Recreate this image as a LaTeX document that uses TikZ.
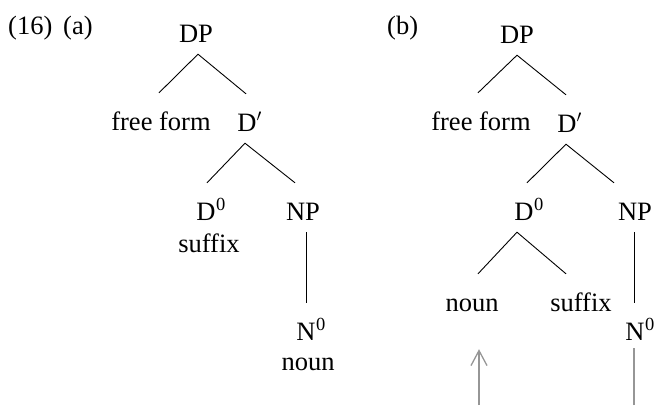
\documentclass[tikz,border=0pt]{standalone}
\usepackage{fontspec}
\setmainfont{Liberation Serif}
\usetikzlibrary{arrows.meta,calc}
\definecolor{movegray}{RGB}{150,150,150}
\newcommand{\zerosup}{\rlap{\kern0.5pt\raisebox{9.5pt}{\fontsize{18.5pt}{18.5pt}\selectfont 0}}}
\newcommand{\barprime}{\rlap{$'$}}
\tikzset{
  lbl/.style={inner sep=0pt, anchor=base west, font=\fontsize{26.5pt}{30pt}\selectfont},
  tn/.style={inner sep=0pt, anchor=base, text height=37pt, text depth=12pt, font=\fontsize{26.5pt}{30pt}\selectfont},
  txt/.style={inner sep=0pt, anchor=base, font=\fontsize{26.5pt}{30pt}\selectfont},
  br/.style={line width=0.9pt, black},
  mv/.style={line width=1.3pt, movegray},
}
\begin{document}
\begin{tikzpicture}[x=1pt,y=-1pt]
\useasboundingbox (0,0) rectangle (654,405);
% labels
\node[lbl] (l16) at (8,34) {(16)};
\node[lbl] (la) at (63,34) {(a)};
\node[lbl] (lb) at (387,34) {(b)};
% tree (a)
\node[tn] (dpA) at (196,42) {DP};
\node[tn] (ffA) at (161,130) {free form};
\node[tn] (dbA) at (247,131) {D\barprime};
\node[tn] (d0A) at (206,220) {D\zerosup};
\node[txt] (sufA) at (209,252) {suffix};
\node[tn] (npA) at (303,220) {NP};
\node[tn] (n0A) at (306,340) {N\zerosup};
\node[txt] (nounA) at (308,370) {noun};
\draw[br] ([xshift=-2pt]ffA.north) -- ([xshift=2pt]dpA.south) -- ([xshift=-1pt]dbA.north);
\draw[br] ([xshift=1pt]d0A.north) -- ([xshift=-2pt]dbA.south) -- ([xshift=-8pt]npA.north);
\draw[br] (n0A.north) -- (n0A.north |- npA.south);
% tree (b)
\node[tn] (dpB) at (517,43) {DP};
\node[tn] (ffB) at (481,130) {free form};
\node[tn] (dbB) at (567,132) {D\barprime};
\node[tn] (d0B) at (524,220) {D\zerosup};
\node[tn] (npB) at (635,220) {NP};
\node[tn] (nounB) at (472,311) {noun};
\node[tn] (sufB) at (581,311) {suffix};
\node[tn] (n0B) at (635,340) {N\zerosup};
\draw[br] ([xshift=-3pt]ffB.north) -- (dpB.south) -- ([xshift=-1pt]dbB.north);
\draw[br] ([xshift=3pt]d0B.north) -- ([xshift=-1pt]dbB.south) -- ([xshift=-21pt]npB.north);
\draw[br] ([xshift=6pt]nounB.north) -- ([xshift=-7pt]d0B.south) -- ([xshift=-15pt]sufB.north);
\draw[br] ([xshift=-1pt]n0B.north) -- ([xshift=-1pt]npB.south);
% movement fragments
\coordinate (arrFoot) at (479,405);
\coordinate (grFoot) at (634,405);
\coordinate (arrTip) at ($(nounB.south)+(0,26)$);
\coordinate (grTop) at ($(n0B.south)+(0,-4)$);
\draw[mv, -{Straight Barb[length=15pt,width=16pt,line width=1.3pt]}] (arrFoot) -- (arrFoot |- arrTip);
\draw[mv] (grFoot) -- (grFoot |- grTop);
\end{tikzpicture}
\end{document}
